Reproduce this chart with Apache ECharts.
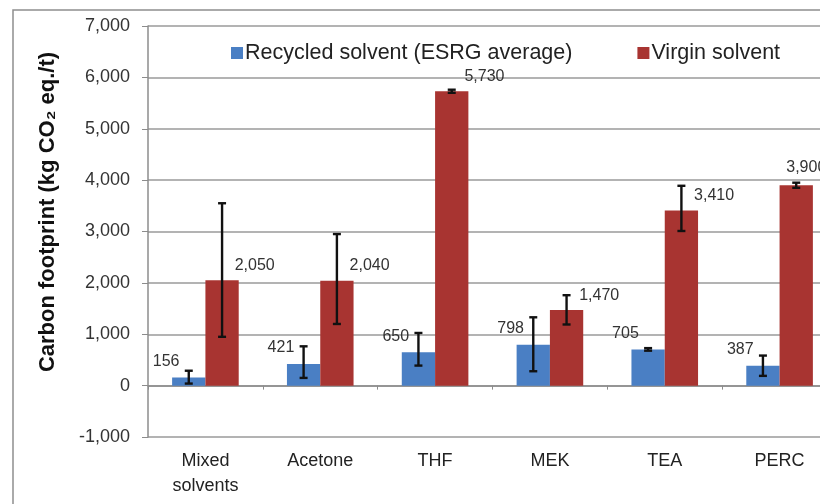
<!DOCTYPE html>
<html>
<head>
<meta charset="utf-8">
<script src="https://cdn.jsdelivr.net/npm/echarts@6/dist/echarts.min.js"></script>
<style>
  html, body { margin: 0; padding: 0; background: #fff; }
  #chart { width: 820px; height: 504px; }
</style>
</head>
<body>
<div id="chart"></div>
<script>
  // values
  const categories = ['Mixed\nsolvents', 'Acetone', 'THF', 'MEK', 'TEA', 'PERC'];
  const recycled = [156, 421, 650, 798, 705, 387];
  const virgin = [2050, 2040, 5730, 1470, 3410, 3900];
  // error bar ends
  const recycledLow = [40, 150, 390, 280, 680, 190];
  const recycledHigh = [290, 765, 1025, 1330, 730, 585];
  const virginLow = [950, 1200, 5700, 1190, 3010, 3850];
  const virginHigh = [3550, 2950, 5760, 1760, 3890, 3950];

  const BLUE = '#4a7fc4';
  const RED = '#a83431';
  const GAP = 0.42;

  const chart = echarts.init(document.getElementById('chart'));

  let fmt = function (v) {
    return Number(v).toLocaleString('en-US');
  };

  // side: -1 for left bar (recycled), +1 for right bar (virgin)
  let errorBar = function (side) {
    return function (params, api) {
      const band = api.size([1, 0])[0];
      const bw = band * (1 - GAP) / 2;
      const lo = api.coord([api.value(0), api.value(1)]);
      const hi = api.coord([api.value(0), api.value(2)]);
      const x = lo[0] + side * bw / 2;
      const cap = 4;
      const style = { stroke: '#111', lineWidth: 2.4 };
      return {
        type: 'group',
        children: [
          { type: 'line', shape: { x1: x, y1: lo[1], x2: x, y2: hi[1] }, style: style },
          { type: 'line', shape: { x1: x - cap, y1: lo[1], x2: x + cap, y2: lo[1] }, style: style },
          { type: 'line', shape: { x1: x - cap, y1: hi[1], x2: x + cap, y2: hi[1] }, style: style }
        ]
      };
    };
  };

  let virginData = virgin.map(function (v, i) {
    // PERC label sits further left in the original
    if (i === virgin.length - 1) {
      return { value: v, label: { position: ['20%', -18] } };
    }
    return v;
  });

  chart.setOption({
    backgroundColor: '#fff',
    animation: false,
    textStyle: { fontFamily: 'Liberation Sans, Arial, sans-serif' },
    grid: { left: 148, top: 26, width: 689, height: 411, outerBoundsMode: 'none', containLabel: false },
    legend: {
      data: ['Recycled solvent (ESRG average)', 'Virgin solvent'],
      left: 226,
      top: 37,
      icon: 'rect',
      itemWidth: 12,
      itemHeight: 12,
      itemGap: 65,
      textStyle: { fontSize: 21.5, color: '#222', padding: [0, 0, 0, -3] }
    },
    graphic: [
      {
        type: 'rect',
        shape: { x: 13, y: 10, width: 900, height: 600 },
        style: { fill: 'none', stroke: '#8f8f8f', lineWidth: 1.5 },
        silent: true
      },
      {
        type: 'text',
        x: 48,
        y: 212,
        rotation: Math.PI / 2,
        style: {
          text: 'Carbon footprint (kg CO\u2082 eq./t)',
          fontSize: 22,
          fontWeight: 'bold',
          fontFamily: 'Liberation Sans, Arial, sans-serif',
          fill: '#111',
          align: 'center',
          verticalAlign: 'middle'
        }
      }
    ],
    xAxis: [
      {
        type: 'category',
        data: categories,
        axisLine: { onZero: true, lineStyle: { color: '#8c8c8c', width: 1.5 } },
        axisTick: { show: true, length: 4, lineStyle: { color: '#8c8c8c' } },
        axisLabel: { show: false }
      },
      {
        type: 'category',
        data: categories,
        position: 'bottom',
        axisLine: { show: false },
        axisTick: { show: false },
        axisLabel: { fontSize: 18, color: '#222', margin: 12, lineHeight: 25, interval: 0 }
      }
    ],
    yAxis: {
      type: 'value',
      min: -1000,
      max: 7000,
      interval: 1000,
      axisLine: { show: true, lineStyle: { color: '#8c8c8c', width: 1.5 } },
      axisTick: { show: true, length: 6, lineStyle: { color: '#8c8c8c' } },
      axisLabel: { fontSize: 18, color: '#333', margin: 18, formatter: fmt },
      splitLine: { lineStyle: { color: '#9a9a9a', width: 1.5 } }
    },
    series: [
      {
        name: 'Recycled solvent (ESRG average)',
        type: 'bar',
        data: recycled,
        itemStyle: { color: BLUE },
        barGap: 0,
        barCategoryGap: (GAP * 100) + '%',
        label: {
          show: true,
          position: ['22%', -16],
          align: 'right',
          verticalAlign: 'middle',
          fontSize: 16,
          color: '#333',
          formatter: function (p) { return fmt(p.value); }
        }
      },
      {
        name: 'Virgin solvent',
        type: 'bar',
        data: virginData,
        itemStyle: { color: RED },
        label: {
          show: true,
          position: ['88%', -15],
          align: 'left',
          verticalAlign: 'middle',
          fontSize: 16,
          color: '#333',
          formatter: function (p) { return fmt(p.value); }
        }
      },
      {
        type: 'custom',
        renderItem: errorBar(-1),
        data: recycled.map(function (v, i) { return [i, recycledLow[i], recycledHigh[i]]; }),
        encode: { x: 0, y: [1, 2] },
        z: 5
      },
      {
        type: 'custom',
        renderItem: errorBar(1),
        data: virgin.map(function (v, i) { return [i, virginLow[i], virginHigh[i]]; }),
        encode: { x: 0, y: [1, 2] },
        z: 5
      }
    ]
  });
</script>
</body>
</html>
